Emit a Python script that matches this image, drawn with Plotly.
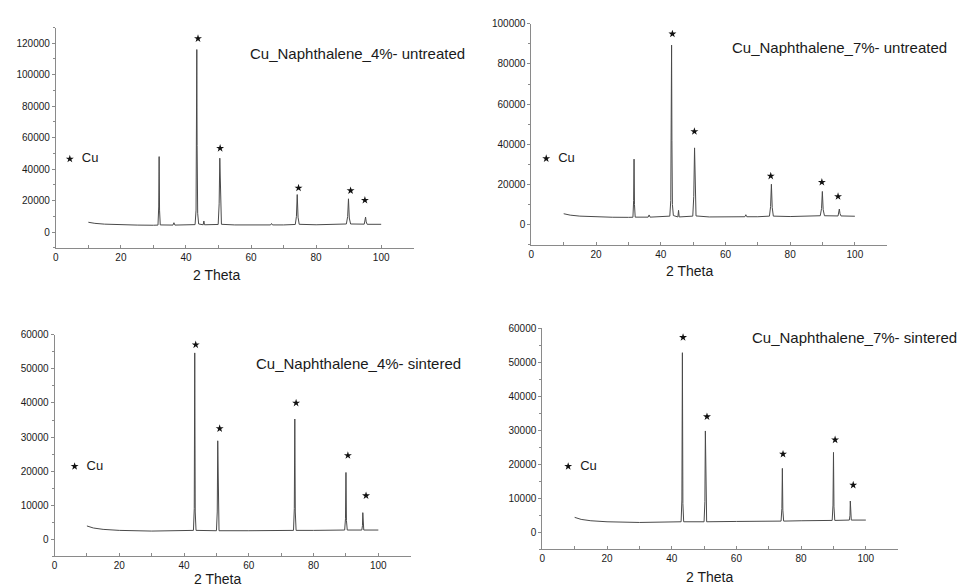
import plotly.graph_objects as go

# ---- XRD patterns: (2-theta, intensity) pairs ----
cu4_untreated = [
    (10, 6300), (12, 5600), (15, 5100), (20, 4700), (25, 4500), (30, 4400),
    (31.4, 4500), (31.62, 16000), (31.75, 48000), (31.88, 14000), (32.1, 4600),
    (36.0, 4500), (36.3, 6000), (36.6, 4500),
    (42.8, 4800), (43.1, 14000), (43.25, 60000), (43.33, 116000), (43.42, 55000), (43.6, 12000), (43.9, 5200),
    (45.3, 4700), (45.5, 7100), (45.7, 4700),
    (49.9, 4900), (50.2, 18000), (50.4, 47000), (50.6, 16000), (50.9, 5000),
    (55, 4600), (60, 4600), (66.0, 4600), (66.3, 5500), (66.6, 4600), (70, 4600),
    (73.6, 4900), (73.95, 10000), (74.2, 23900), (74.45, 9500), (74.8, 5000),
    (80, 4700), (85, 4800),
    (89.3, 5200), (89.7, 10000), (89.95, 21200), (90.2, 9000), (90.6, 5200),
    (94.8, 5100), (95.05, 7200), (95.2, 9600), (95.4, 6500), (95.7, 5000), (100, 5000),
]
cu7_untreated = [
    (10, 5400), (12, 4700), (15, 4200), (20, 3800), (25, 3650), (30, 3600),
    (31.4, 3650), (31.62, 12000), (31.75, 32600), (31.88, 10000), (32.1, 3700),
    (36.1, 3700), (36.4, 4800), (36.7, 3700),
    (42.8, 4200), (43.1, 12000), (43.25, 45000), (43.35, 89400), (43.45, 42000), (43.6, 10000), (43.9, 4500),
    (45.3, 3800), (45.5, 7100), (45.7, 3800),
    (49.9, 4200), (50.2, 14000), (50.45, 38200), (50.65, 13000), (50.9, 4300),
    (55, 3800), (60, 3800), (66.0, 3900), (66.3, 4900), (66.6, 3900), (70, 3900),
    (73.6, 4200), (73.95, 9000), (74.2, 20100), (74.45, 8500), (74.8, 4200),
    (80, 4000), (85, 4050),
    (89.3, 4400), (89.7, 8000), (89.95, 16500), (90.2, 7500), (90.6, 4400),
    (94.8, 4300), (95.05, 6000), (95.2, 7750), (95.4, 5500), (95.7, 4300), (100, 4150),
]
cu4_sintered = [
    (10, 3900), (12, 3300), (15, 2900), (20, 2600), (30, 2400), (40, 2400),
    (42.9, 2600), (43.15, 9000), (43.3, 54700), (43.45, 8000), (43.7, 2600),
    (50.0, 2500), (50.25, 8000), (50.4, 28900), (50.55, 7000), (50.8, 2500),
    (60, 2500), (73.8, 2600), (74.05, 9000), (74.2, 35300), (74.35, 8000), (74.6, 2600),
    (80, 2600), (89.6, 2700), (89.85, 6000), (90.0, 19600), (90.15, 5500), (90.4, 2700),
    (94.9, 2700), (95.1, 4000), (95.2, 7800), (95.3, 3800), (95.5, 2700), (100, 2700),
]
cu7_sintered = [
    (10, 4400), (12, 3800), (15, 3400), (20, 3100), (30, 2900), (40, 3000),
    (42.9, 3100), (43.15, 9500), (43.3, 52800), (43.45, 8500), (43.7, 3100),
    (50.0, 3100), (50.25, 9000), (50.4, 29800), (50.55, 8000), (50.8, 3100),
    (60, 3200), (73.8, 3300), (74.05, 7000), (74.2, 18800), (74.35, 6500), (74.6, 3300),
    (80, 3400), (89.6, 3500), (89.85, 8000), (90.0, 23500), (90.15, 7500), (90.4, 3500),
    (94.9, 3600), (95.1, 5000), (95.2, 9200), (95.3, 4800), (95.5, 3600), (100, 3600),
]

# ---- Cu reflection markers (2-theta, height of star) ----
stars_4u = [(43.7, 123000), (50.5, 53300), (74.6, 28100), (90.6, 26400), (95.0, 20300)]
stars_7u = [(43.6, 95000), (50.4, 46400), (74.0, 24200), (89.8, 21100), (94.8, 14000)]
stars_4s = [(43.6, 57100), (51.0, 32500), (74.6, 40000), (90.6, 24600), (96.2, 12800)]
stars_7s = [(43.5, 57300), (50.9, 34000), (74.4, 23000), (90.5, 27200), (96.1, 13900)]

# key marker position (2-theta, intensity) for "* Cu"
key_pos = [(4.3, 46500), (4.6, 32900), (6.2, 21400), (8.0, 19400)]

titles = [
    "Cu_Naphthalene_4%- untreated",
    "Cu_Naphthalene_7%- untreated",
    "Cu_Naphthalene_4%- sintered",
    "Cu_Naphthalene_7%- sintered",
]
y_ranges = [(-10000, 130000), (-10000, 100000), (-5000, 60000), (-5000, 60000)]
y_dticks = [20000, 20000, 10000, 10000]

W, H = 958, 588
# panel boxes in pixels: left, right, top, bottom of the axis frame
boxes = [
    (53, 412, 22.7, 245),
    (530, 887, 19, 241.7),
    (51.7, 409, 332.7, 556),
    (541, 898, 326, 549),
]
# title label anchors (left x, centre y) and x-axis title centre (x, y)
title_pos = [(246, 49), (729, 43), (252, 362), (749, 335)]
xtitle_pos = [(214, 272), (689, 268), (215, 579), (709, 577)]

patterns = [cu4_untreated, cu7_untreated, cu4_sintered, cu7_sintered]
stars = [stars_4u, stars_7u, stars_4s, stars_7s]

FONT = "Liberation Sans, Arial, sans-serif"
AXIS_COL = "#8a8a8a"
TEXT_COL = "#1a1a1a"

fig = go.Figure()
layout = dict(
    width=W, height=H,
    margin=dict(l=0, r=0, t=0, b=0),
    paper_bgcolor="white", plot_bgcolor="white",
    showlegend=False,
    font=dict(family=FONT, color=TEXT_COL),
)
annotations = []

for i in range(4):
    xa = "x" if i == 0 else f"x{i+1}"
    ya = "y" if i == 0 else f"y{i+1}"
    xkey = "xaxis" if i == 0 else f"xaxis{i+1}"
    ykey = "yaxis" if i == 0 else f"yaxis{i+1}"
    l, r, t, b = boxes[i]

    px, py = zip(*patterns[i])
    fig.add_trace(go.Scatter(
        x=px, y=py, mode="lines", xaxis=xa, yaxis=ya,
        line=dict(color="#4a4a4a", width=1), hoverinfo="skip",
    ))
    sx, sy = zip(*stars[i])
    fig.add_trace(go.Scatter(
        x=sx, y=sy, mode="markers", xaxis=xa, yaxis=ya,
        marker=dict(symbol="star", size=6, color="#111111", line=dict(width=0)),
        hoverinfo="skip",
    ))
    kx, ky = key_pos[i]
    fig.add_trace(go.Scatter(
        x=[kx], y=[ky], mode="markers+text", xaxis=xa, yaxis=ya,
        marker=dict(symbol="star", size=6, color="#111111", line=dict(width=0)),
        text=["  Cu"], textposition="middle right",
        textfont=dict(size=13, color=TEXT_COL, family=FONT),
        hoverinfo="skip", cliponaxis=False,
    ))

    layout[xkey] = dict(
        domain=[l / W, r / W], anchor=ya, range=[0, 110],
        tickmode="linear", tick0=0, dtick=20,
        ticks="inside", ticklen=3, tickcolor=AXIS_COL, tickwidth=1,
        minor=dict(ticks="inside", ticklen=3, tickcolor=AXIS_COL, dtick=10, tick0=0),
        showline=True, linecolor=AXIS_COL, linewidth=1,
        showgrid=False, zeroline=False,
        tickfont=dict(size=10, color=TEXT_COL, family=FONT),
    )
    y0, y1 = y_ranges[i]
    layout[ykey] = dict(
        domain=[1 - b / H, 1 - t / H], anchor=xa, range=[y0, y1],
        tickmode="linear", tick0=0, dtick=y_dticks[i], tickformat="d",
        ticks="outside", ticklen=3, tickcolor=AXIS_COL, tickwidth=1,
        minor=dict(ticks="outside", ticklen=2, tickcolor=AXIS_COL,
                   dtick=y_dticks[i] / 2, tick0=0),
        showline=True, linecolor=AXIS_COL, linewidth=1,
        showgrid=False, zeroline=False,
        tickfont=dict(size=10, color=TEXT_COL, family=FONT),
    )

    tx, ty = title_pos[i]
    annotations.append(dict(
        xref="paper", yref="paper", x=tx / W, y=1 - ty / H,
        xanchor="left", yanchor="middle", showarrow=False,
        text=titles[i], font=dict(size=15, color=TEXT_COL, family=FONT),
    ))
    ax, ay = xtitle_pos[i]
    annotations.append(dict(
        xref="paper", yref="paper", x=ax / W, y=1 - ay / H,
        xanchor="center", yanchor="middle", showarrow=False,
        text="2 Theta", font=dict(size=14, color=TEXT_COL, family=FONT),
    ))

layout["annotations"] = annotations
fig.update_layout(**layout)
fig.write_html("out.html")
